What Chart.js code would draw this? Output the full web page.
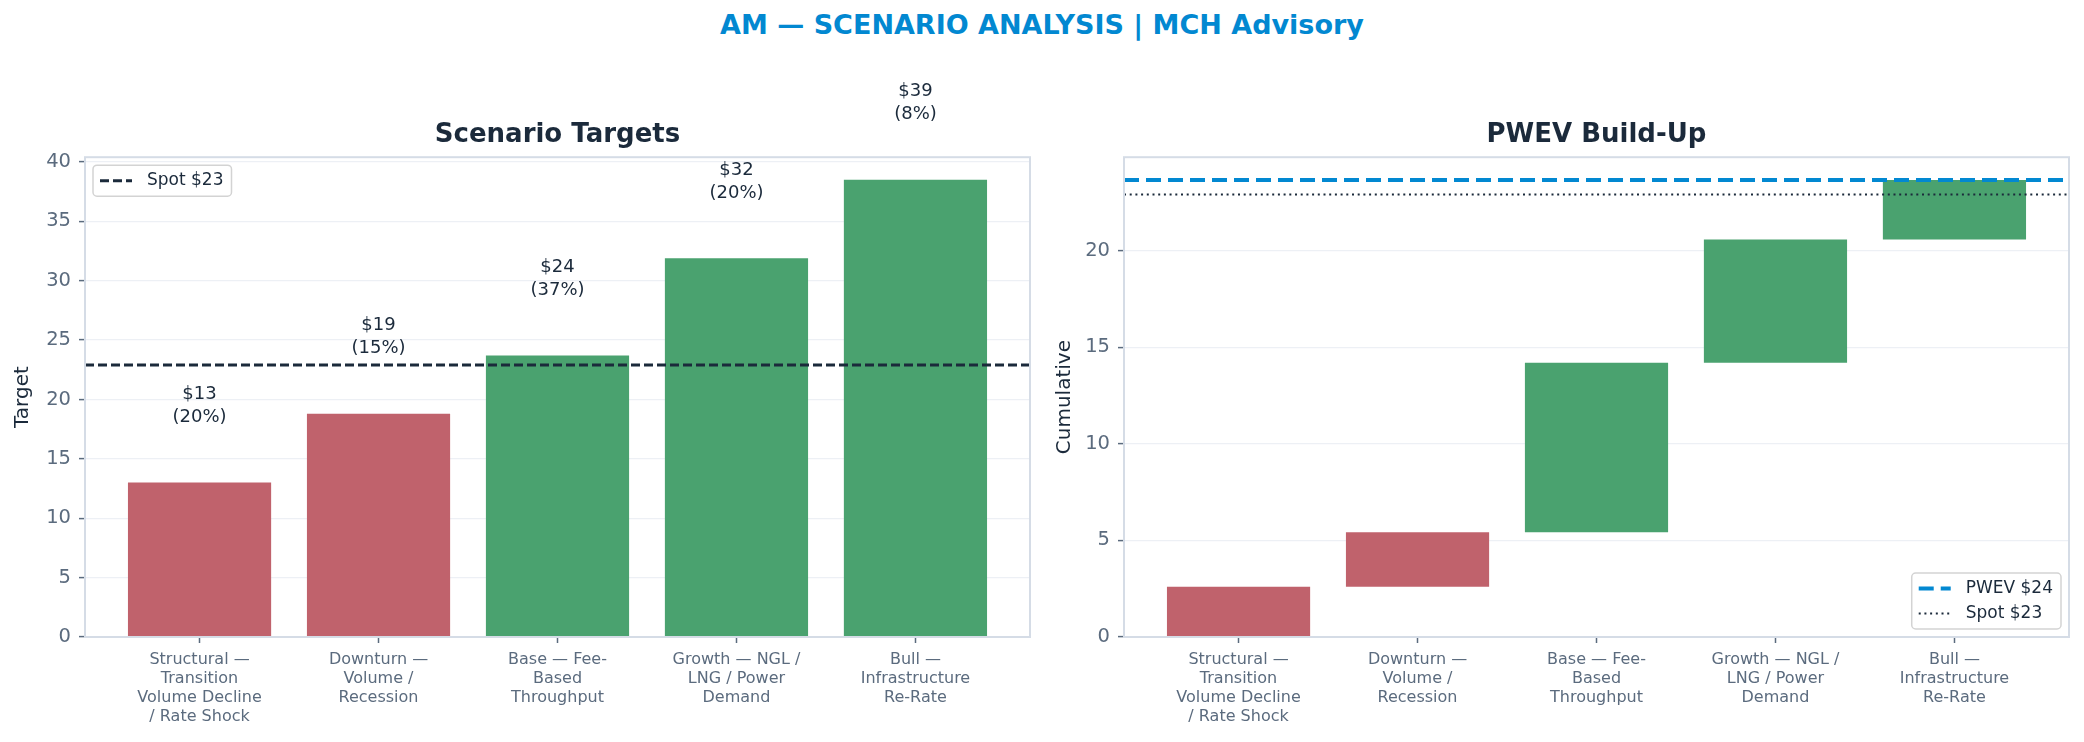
<!DOCTYPE html>
<html>
<head>
<meta charset="utf-8">
<script src="https://cdn.jsdelivr.net/npm/chart.js@4.4.1/dist/chart.umd.min.js"></script>
<style>
  html, body { margin: 0; padding: 0; background: #fff; }
  body { width: 2084px; height: 742px; position: relative; overflow: hidden; font-family: "DejaVu Sans", sans-serif; }
  #title { position: absolute; left: 0; top: 9px; width: 2084px; text-align: center; font-size: 27px; font-weight: bold; color: #0288D1; line-height: 32px; }
  canvas { position: absolute; top: 0; }
  #left { left: 0; }
  #right { left: 1042px; }
</style>
</head>
<body>
<div id="title">AM — SCENARIO ANALYSIS | MCH Advisory</div>
<canvas id="left" width="1042" height="742"></canvas>
<canvas id="right" width="1042" height="742"></canvas>
<script>
// scenario data
var scenarios = ["Structural", "Downturn", "Base", "Growth", "Bull"];
var tickLines = [
    ["Structural —", "Transition", "Volume Decline", "/ Rate Shock"],
    ["Downturn —", "Volume /", "Recession"],
    ["Base — Fee-", "Based", "Throughput"],
    ["Growth — NGL /", "LNG / Power", "Demand"],
    ["Bull —", "Infrastructure", "Re-Rate"]
];
var targets = [13.0, 18.8, 23.7, 31.9, 38.5];
var probs = [20, 15, 37, 20, 8];
var spot = 22.9;

// axis ranges
var xMin = -0.64, xMax = 4.64;
var leftMax = 40.4, rightMax = 24.83;

var RED = "#C0626C", GREEN = "#4AA26F", BLUE = "#0288D1";
var DARK = "#1B2A3B", SLATE = "#5B6B7E", FRAME = "#D5DCE6";
var GRID = "rgba(203,213,225,0.35)";

Chart.defaults.font.family = "'DejaVu Sans', sans-serif";

// waterfall: probability weighted steps
var steps = [];
var run = 0;
targets.forEach(function (t, i) {
    var c = t * probs[i] / 100;
    steps.push([run, run + c]);
    run += c;
});
var pwev = run;
var barColors = targets.map(function (t) { return t < spot ? RED : GREEN; });

var frame = {
    id: "frame",
    afterDraw: function (chart) {
        var a = chart.chartArea, ctx = chart.ctx;
        ctx.save();
        ctx.strokeStyle = FRAME;
        ctx.lineWidth = 2;
        ctx.strokeRect(a.left, a.top, a.right - a.left, a.bottom - a.top);
        ctx.restore();
    }
};

var refLegend = {
    id: "refLegend",
    afterDraw: function (chart, args, opts) {
        var ctx = chart.ctx, a = chart.chartArea;
        var items = chart.data.datasets.filter(function (d) { return d.type === "line"; });
        ctx.save();
        ctx.font = "17px 'DejaVu Sans', sans-serif";
        var tw = 0;
        items.forEach(function (d) { tw = Math.max(tw, ctx.measureText(d.label).width); });
        var w = 54 + tw + 8, rowH = 25, h = items.length * rowH + 6;
        var x = opts.corner === "tl" ? a.left + 8 : a.right - 8 - w;
        var y = opts.corner === "tl" ? a.top + 8 : a.bottom - 8 - h;
        ctx.beginPath();
        ctx.roundRect(x, y, w, h, 4);
        ctx.fillStyle = "rgba(255,255,255,0.85)";
        ctx.fill();
        ctx.strokeStyle = "#D3D3D3";
        ctx.lineWidth = 1.5;
        ctx.stroke();
        items.forEach(function (d, i) {
            var cy = y + 3 + rowH * i + rowH / 2;
            ctx.beginPath();
            ctx.setLineDash(d.borderDash || []);
            ctx.strokeStyle = d.borderColor;
            ctx.lineWidth = d.borderWidth;
            ctx.moveTo(x + 7, cy);
            ctx.lineTo(x + 39, cy);
            ctx.stroke();
            ctx.setLineDash([]);
            ctx.fillStyle = DARK;
            ctx.textBaseline = "middle";
            ctx.fillText(d.label, x + 54, cy);
        });
        ctx.restore();
    }
};

var barLabels = {
    id: "barLabels",
    afterDatasetsDraw: function (chart) {
        var ctx = chart.ctx, ys = chart.scales.y;
        var idx = chart.data.datasets.findIndex(function (d) { return d.type === "bar"; });
        var meta = chart.getDatasetMeta(idx);
        ctx.save();
        ctx.font = "18px 'DejaVu Sans', sans-serif";
        ctx.fillStyle = DARK;
        ctx.textAlign = "center";
        ctx.textBaseline = "middle";
        meta.data.forEach(function (bar, i) {
            var top = ys.getPixelForValue(targets[i]);
            ctx.fillText("$" + Math.round(targets[i]), bar.x, top - 88);
            ctx.fillText("(" + probs[i] + "%)", bar.x, top - 65);
        });
        ctx.restore();
    }
};

function makeOptions(title, yTitle, yMax, yWidth, padRight, corner) {
    return {
        responsive: false,
        animation: false,
        events: [],
        layout: { padding: { top: 120, right: padRight, bottom: 0, left: 0 } },
        plugins: {
            legend: { display: false },
            tooltip: { enabled: false },
            title: {
                display: true, text: title, color: DARK, fullSize: false,
                font: { size: 26, weight: "bold" },
                padding: { top: 0, bottom: 6 }
            },
            refLegend: { corner: corner }
        },
        scales: {
            x: {
                type: "linear", min: xMin, max: xMax, offset: false,
                afterBuildTicks: function (s) {
                    s.ticks = scenarios.map(function (_, i) { return { value: i }; });
                },
                afterFit: function (s) { s.height = 105; },
                grid: { drawOnChartArea: false, drawTicks: true, tickLength: 6, tickColor: SLATE, tickWidth: 1.5, offset: false },
                border: { display: false },
                ticks: {
                    callback: function (v, i) { return tickLines[i]; },
                    color: SLATE, font: { size: 16, lineHeight: 1.2 },
                    maxRotation: 0, minRotation: 0, autoSkip: false, padding: 7
                }
            },
            y: {
                min: 0, max: yMax, z: 1,
                afterFit: function (s) { s.width = yWidth; },
                grid: { color: GRID, lineWidth: 1.2, tickColor: SLATE, tickLength: 6, tickWidth: 1.5 },
                border: { display: false },
                ticks: { stepSize: 5, includeBounds: false, color: SLATE, font: { size: 19.5 }, padding: 8 },
                title: { display: true, text: yTitle, color: DARK, font: { size: 20 }, padding: { top: 11, bottom: 0 } }
            }
        }
    };
}

function refLine(label, value, color, width, dash) {
    return {
        type: "line", label: label,
        data: [{ x: xMin, y: value }, { x: xMax, y: value }],
        borderColor: color, borderWidth: width, borderDash: dash,
        pointRadius: 0, fill: false, order: 0
    };
}

new Chart(document.getElementById("left"), {
    type: "bar",
    data: {
        datasets: [
            refLine("Spot $" + Math.round(spot), spot, DARK, 3, [9, 4]),
            {
                type: "bar",
                data: targets.map(function (t, i) { return { x: i, y: t }; }),
                backgroundColor: barColors,
                barPercentage: 0.8, categoryPercentage: 1, order: 1
            }
        ]
    },
    options: makeOptions("Scenario Targets", "Target", leftMax, 85, 12, "tl"),
    plugins: [frame, refLegend, barLabels]
});

new Chart(document.getElementById("right"), {
    type: "bar",
    data: {
        datasets: [
            refLine("PWEV $" + Math.round(pwev), pwev, BLUE, 4, [15, 7]),
            refLine("Spot $" + Math.round(spot), spot, DARK, 1.8, [2, 3.7]),
            {
                type: "bar",
                data: steps.map(function (s, i) { return { x: i, y: s }; }),
                backgroundColor: barColors,
                barPercentage: 0.8, categoryPercentage: 1, order: 1
            }
        ]
    },
    options: makeOptions("PWEV Build-Up", "Cumulative", rightMax, 82, 15, "br"),
    plugins: [frame, refLegend]
});
</script>
</body>
</html>
